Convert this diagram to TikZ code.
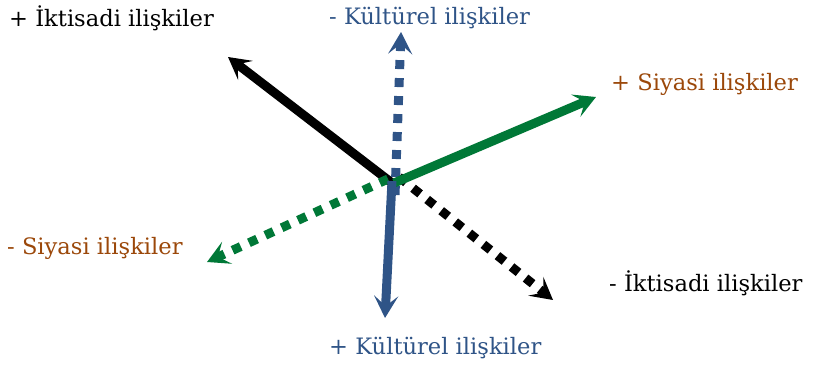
\documentclass[tikz,border=0pt]{standalone}
\usepackage{fontspec}
\setmainfont{DejaVu Serif}
\usetikzlibrary{arrows.meta}
\definecolor{cblue}{RGB}{47,84,135}
\definecolor{cgreen}{RGB}{0,120,55}
\definecolor{corange}{RGB}{155,72,10}
\tikzset{
  lbl/.style={font=\fontsize{22.6}{26}\selectfont, inner sep=0pt, anchor=west},
  arr/.style={line width=9pt, -{Stealth[length=22pt,width=24pt,inset=10pt]}},
  dsh/.style={arr, dash pattern=on 9pt off 9pt},
}
\begin{document}
\begin{tikzpicture}[x=1pt,y=-1pt]
\useasboundingbox (0,0) rectangle (816,367);
\coordinate (c) at (392,183);
\coordinate (e1) at (228,57);
\coordinate (e2) at (401,32);
\coordinate (e3) at (596,97);
\coordinate (e4) at (207,262);
\coordinate (e5) at (385,318);
\coordinate (e6) at (553,300);
\draw[arr, black] (c) -- (e1);
\draw[dsh, cblue] ([xshift=3pt,yshift=-12pt]c) -- (e2);
\draw[dsh, cgreen] ([xshift=-4pt,yshift=4pt]c) -- (e4);
\draw[dsh, black] ([xshift=7pt,yshift=6pt]c) -- (e6);
\draw[arr, cgreen] ([xshift=2pt]c) -- (e3);
\draw[arr, cblue] ([yshift=2pt]c) -- (e5);
\node[lbl, black] (t1) at (9,18) {+ İktisadi ilişkiler};
\node[lbl, cblue] (t2) at (329,18) {- Kültürel ilişkiler};
\node[lbl, corange] (t3) at (611,84) {+ Siyasi ilişkiler};
\node[lbl, corange] (t4) at (7,248) {- Siyasi ilişkiler};
\node[lbl, black] (t5) at (609,283) {- İktisadi ilişkiler};
\node[lbl, cblue] (t6) at (329,348) {+ Kültürel ilişkiler};
\end{tikzpicture}
\end{document}
